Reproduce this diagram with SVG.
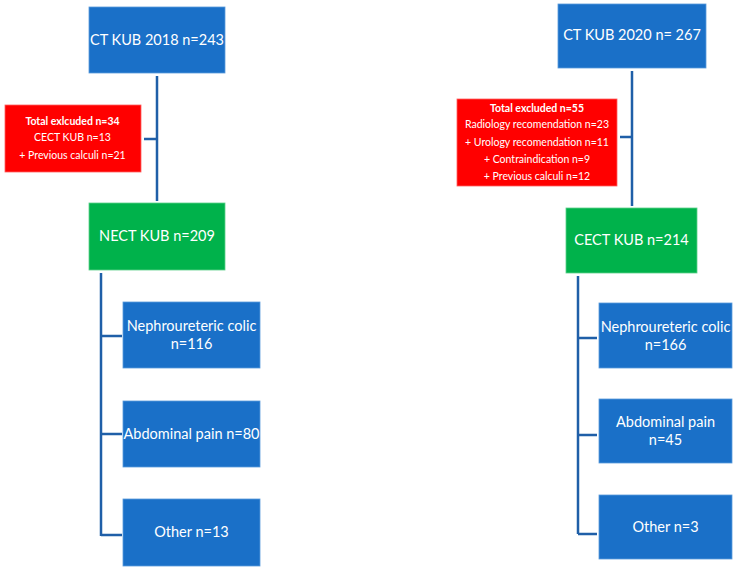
<svg xmlns="http://www.w3.org/2000/svg" width="735" height="571" viewBox="0 0 735 571">
<style>
.b{fill:#1A70C8;stroke:#5A9BDB;stroke-width:0.8}
.g{fill:#00B24B;stroke:#5CD08A;stroke-width:0.8}
.r{fill:#FF0000;stroke:#FF6060;stroke-width:0.8}
.t{font-family:Lato,"Open Sans",sans-serif;fill:#fff;text-anchor:middle;font-size:14.5px}
.s{font-family:Lato,"Open Sans",sans-serif;fill:#fff;text-anchor:middle;font-size:10.5px}
.bold{font-weight:bold}
.c{fill:none;stroke:#1F5FA8;stroke-width:2.5}
</style>
<rect width="735" height="571" fill="#fff"/>
<g id="connectors">
<path class="c" d="M157,76 V201 M144,139 H157"/>
<path class="c" d="M101,273 V536 M101,336 H122 M101,434 H122 M101,535 H122"/>
<path class="c" d="M632,71 V206 M620,137 H632"/>
<path class="c" d="M578,276 V534 M578,338 H597 M578,435 H597 M578,534 H597"/>
</g>
<g id="ct2018"><rect class="b" x="89" y="7" width="136" height="66"/><text class="t" x="157" y="45">CT KUB 2018 n=243</text></g>
<g id="excl2018"><rect class="r" x="5" y="105" width="136" height="67"/>
<text class="s bold" x="72.5" y="124.5">Total exlcuded n=34</text>
<text class="s" x="72.5" y="141">CECT KUB n=13</text>
<text class="s" x="72.5" y="158.5">+ Previous calculi n=21</text></g>
<g id="nect"><rect class="g" x="89" y="203" width="136" height="67"/><text class="t" x="157" y="240.5">NECT KUB n=209</text></g>
<g id="l1"><rect class="b" x="123" y="302" width="137" height="66"/><text class="t" x="191.5" y="331">Nephroureteric colic</text><text class="t" x="191.5" y="348.5">n=116</text></g>
<g id="l2"><rect class="b" x="123" y="401" width="137" height="66"/><text class="t" x="191.5" y="438.5">Abdominal pain n=80</text></g>
<g id="l3"><rect class="b" x="123" y="499" width="137" height="67"/><text class="t" x="191.5" y="537">Other n=13</text></g>
<g id="ct2020"><rect class="b" x="558" y="4" width="148" height="64"/><text class="t" x="632" y="39.5">CT KUB 2020 n= 267</text></g>
<g id="excl2020"><rect class="r" x="457" y="99" width="160" height="87"/>
<text class="s bold" x="537" y="111.5">Total excluded n=55</text>
<text class="s" x="537" y="128">Radiology recomendation n=23</text>
<text class="s" x="537" y="145.5">+ Urology recomendation n=11</text>
<text class="s" x="537" y="162.5">+ Contraindication n=9</text>
<text class="s" x="537" y="179.5">+ Previous calculi n=12</text></g>
<g id="cect"><rect class="g" x="566" y="208" width="131" height="65"/><text class="t" x="631.5" y="245">CECT KUB n=214</text></g>
<g id="r1"><rect class="b" x="599" y="303" width="133" height="65"/><text class="t" x="665.5" y="332">Nephroureteric colic</text><text class="t" x="665.5" y="349.5">n=166</text></g>
<g id="r2"><rect class="b" x="599" y="399" width="133" height="64"/><text class="t" x="665.5" y="427">Abdominal pain</text><text class="t" x="665.5" y="445">n=45</text></g>
<g id="r3"><rect class="b" x="599" y="495" width="133" height="64"/><text class="t" x="665.5" y="532">Other n=3</text></g>
</svg>
